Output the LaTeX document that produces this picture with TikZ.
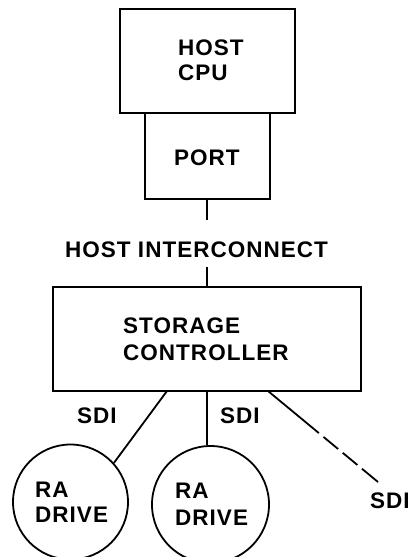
\documentclass[tikz,border=0pt]{standalone}
\usepackage{fontspec}
\setmainfont{Liberation Sans}[LetterSpace=4.5]
\begin{document}
\begin{tikzpicture}[x=1pt,y=-1pt,
  lw/.style={line width=1.8pt},
  box/.style={lw,draw,rectangle,inner sep=0pt},
  drive/.style={lw,draw,circle,inner sep=0pt},
  txt/.style={anchor=base west,inner sep=0pt,font=\fontsize{22.5}{27}\selectfont\bfseries},
  dashline/.style={lw,dash pattern=on 66pt off 6pt on 19pt off 6pt on 19pt off 6pt on 30pt}]
\useasboundingbox (0,0) rectangle (409,557);
% boxes
\node[box,minimum width=175pt,minimum height=104pt] (cpu) at (207.5,61) {};
\node[box,minimum width=125pt,minimum height=86pt] (port) at (207.5,156) {};
\node[box,minimum width=308pt,minimum height=104pt] (ctrl) at (207,339) {};
\node[drive,minimum size=115pt] (d1) at (70.5,502) {};
\node[drive,minimum size=117pt] (d2) at (210.5,504.5) {};
% texts
\node[txt] (cpuA) at (178,55) {HOST};
\node[txt] (cpuB) at (178,80) {CPU};
\node[txt] (portT) at (174,165) {PORT};
\node[txt] (hic) at (65,257) {HOST INTERCONNECT};
\node[txt] (ctrlA) at (123,333) {STORAGE};
\node[txt] (ctrlB) at (123,360) {CONTROLLER};
\node[txt] (sdiA) at (77,423) {SDI};
\node[txt] (sdiB) at (220,423) {SDI};
\node[txt] (sdiC) at (370,508) {SDI};
\node[txt] (d1A) at (35,497) {RA};
\node[txt] (d1B) at (35,522) {DRIVE};
\node[txt] (d2A) at (175,498) {RA};
\node[txt] (d2B) at (175,525) {DRIVE};
% connectors
\coordinate (p1) at (207,220);
\coordinate (p2) at (207,267);
\coordinate (s1) at (167,391);
\coordinate (s2) at (207,391);
\coordinate (s3) at (268,391);
\coordinate (e3) at (378,482);
\draw[lw] (port.south -| p1) -- (p1);
\draw[lw] (p2) -- (p2 |- ctrl.north);
\draw[lw] (s1) -- (d1.42);
\draw[lw] (s2) -- (s2 |- d2.north);
\draw[dashline] (s3) -- (e3);
\end{tikzpicture}
\end{document}
